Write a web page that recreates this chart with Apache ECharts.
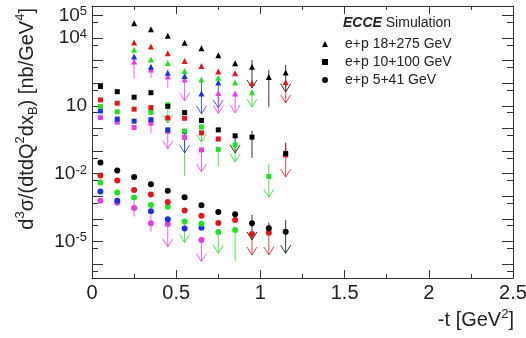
<!DOCTYPE html>
<html>
<head>
<meta charset="utf-8">
<script src="https://cdn.jsdelivr.net/npm/echarts@6/dist/echarts.min.js"></script>
<style>
html, body { margin: 0; padding: 0; background: #fff; }
#main { width: 526px; height: 338px; }
</style>
</head>
<body>
<div id="main"></div>
<script>
// -t bin centres [GeV^2]
var tBins = [0.05, 0.15, 0.25, 0.35, 0.45, 0.55, 0.65, 0.75, 0.85, 0.95, 1.05, 1.15];
// powers of ten that carry a label on the y axis
var yLabelPowers = [-5, -2, 1, 4, 5];
var yMin = 2.4e-7, yMax = 2.6e5;

// e+p 18+275 GeV (triangles)
var triBlack   = [null, null, 4.5e4, 2.45e4, 1.24e4, 6.1e3, 3.5e3, 1.7e3, 770, 530, 190, 300];
var triRed     = [null, null, 6.3e3, 4.2e3, 2.1e3, 970, 580, 330, 277, 103, null, 114];
var triGreen   = [null, null, 3.0e3, 1.13e3, 790, 350, 147, 172, 108, 40, null, null];
var triBlue    = [null, null, 1.5e3, 540, 286, 210, 35, 108, null, null, null, null];
var triMagenta = [null, null, 900, 400, 200, 147, null, 37, 35, null, null, null];

// e+p 10+100 GeV (squares)
var sqBlack   = [71, 42, 24, 38, 9.4, 5.0, 2.26, 0.86, 0.47, 0.41, null, 0.078];
var sqRed     = [18.2, 13.0, 7.1, 8.3, 2.9, 2.8, 0.63, 0.34, null, null, null, 0.067];
var sqGreen   = [9.2, 5.4, null, 5.1, 11, 0.77, 1.16, 0.118, 0.186, null, 0.0075, null];
var sqBlue    = [5.9, 2.58, 2.08, 2.43, 0.86, 0.72, null, null, null, null, null, null];
var sqMagenta = [3.0, 1.9, 1.1, 1.7, 0.74, 0.40, 0.112, null, null, null, null, null];

// e+p 5+41 GeV (circles)
var ciBlack   = [0.0307, 0.0136, 0.0071, 3.4e-3, 1.72e-3, 9.0e-4, 4.0e-4, 2.0e-4, 1.6e-4, 6.4e-5, 3.8e-5, 2.7e-5];
var ciRed     = [0.0083, 0.0049, 1.9e-3, 1.18e-3, 5.6e-4, 2.3e-4, 1.37e-4, 6.5e-5, 8.9e-5, 2.1e-5, 2.4e-5, null];
var ciGreen   = [0.0040, 1.47e-3, 8.7e-4, 4.1e-4, 3.4e-4, 7.5e-5, 6.1e-5, 2.6e-5, 3.2e-5, null, null, null];
var ciBlue    = [1.6e-3, 6.3e-4, null, 2.17e-4, 9.6e-5, 3.7e-5, 4.0e-5, null, null, null, null, null];
var ciMagenta = [6.3e-4, 5.1e-4, 3.0e-4, 6.3e-5, 5.9e-5, null, 1.16e-5, null, null, null, null, null];

// error bars and upper limits: [t, colour (0 black,1 red,2 green,3 blue,4 magenta), low, high, arrow]
var triBars = [
  [0.25, 4, 155, 1700, 0], [0.35, 4, 170, 520, 0], [0.45, 4, 62, 260, 0],
  [0.55, 4, 16.5, 147, 1], [0.65, 3, 4.4, 147, 1], [0.75, 3, 8.1, 108, 1],
  [0.75, 4, 4.6, 37, 1], [0.85, 4, 4.85, 35, 1], [0.95, 0, 62, 1070, 1],
  [0.95, 2, 8.9, 40, 1], [1.05, 0, 8.9, 390, 0], [1.15, 0, 41, 650, 1],
  [1.15, 1, 13.4, 114, 1]
];
var sqBars = [
  [0.35, 4, 0.63, 1.7, 0], [0.45, 2, 1.7, 11, 1], [0.45, 4, 0.124, 0.74, 1],
  [0.55, 2, 0.0079, 0.77, 0], [0.55, 3, 0.082, 0.72, 1], [0.65, 2, 0.25, 1.16, 1],
  [0.65, 4, 0.0119, 0.112, 1], [0.75, 2, 0.021, 0.118, 0], [0.85, 0, 0.082, 0.47, 1],
  [0.85, 2, 0.033, 0.186, 1], [0.95, 0, 0.050, 0.77, 0], [1.05, 2, 8.9e-4, 0.027, 1],
  [1.15, 0, 0.078, 0.23, 0], [1.15, 1, 0.0071, 0.23, 1]
];
var ciBars = [
  [0.25, 4, 1.25e-4, 6.2e-4, 0], [0.35, 4, 2.7e-5, 1.49e-4, 0], [0.45, 4, 5.7e-6, 5.9e-5, 1],
  [0.55, 2, 9.0e-6, 7.5e-5, 1], [0.65, 4, 1.28e-6, 1.16e-5, 1], [0.75, 2, 3.0e-6, 2.6e-5, 1],
  [0.85, 2, 1.37e-6, 3.2e-5, 0], [0.95, 0, 1.16e-5, 1.49e-4, 1], [0.95, 1, 2.5e-6, 2.1e-5, 1],
  [1.05, 0, 3.8e-5, 6.8e-5, 0], [1.05, 1, 2.5e-6, 2.4e-5, 1], [1.15, 0, 3.0e-6, 8.9e-5, 1]
];

var colours = ['#000000', '#e8141c', '#22e022', '#1a30e8', '#e83ce8'];
var FONT = '"Liberation Sans", Arial, Helvetica, sans-serif';
var AXIS_COL = '#333';

var groups = [
  { name: 'e+p 18+275 GeV', symbol: 'triangle', size: 6,
    values: [triBlack, triRed, triGreen, triBlue, triMagenta], bars: triBars },
  { name: 'e+p 10+100 GeV', symbol: 'rect', size: 5,
    values: [sqBlack, sqRed, sqGreen, sqBlue, sqMagenta], bars: sqBars },
  { name: 'e+p 5+41 GeV', symbol: 'circle', size: 6,
    values: [ciBlack, ciRed, ciGreen, ciBlue, ciMagenta], bars: ciBars }
];

// vertical error bar, with an open arrow head for upper limits
function renderBar(params, api) {
  var t = api.value(0);
  var top = api.coord([t, api.value(2)]);
  var bot = api.coord([t, api.value(1)]);
  var col = colours[api.value(4)];
  var kids = [{
    type: 'line',
    shape: { x1: top[0], y1: top[1], x2: bot[0], y2: bot[1] },
    style: { stroke: col, lineWidth: 1, opacity: 0.8 }
  }];
  if (api.value(3)) {
    kids.push({
      type: 'polyline',
      shape: { points: [[bot[0] - 5, bot[1] - 8], [bot[0], bot[1]], [bot[0] + 5, bot[1] - 8]] },
      style: { stroke: col, fill: null, lineWidth: 1, opacity: 0.8 }
    });
  }
  return { type: 'group', children: kids };
}

var series = [];
groups.forEach(function (g, gi) {
  series.push({
    type: 'custom',
    name: 'bars' + gi,
    silent: true,
    z: 1,
    renderItem: renderBar,
    encode: { x: 0, y: [1, 2] },
    data: g.bars.map(function (b) { return [b[0], b[2], b[3], b[4], b[1]]; })
  });
});
groups.forEach(function (g) {
  // magenta first, black last (on top)
  for (var ci = 4; ci >= 0; ci--) {
    var pts = [];
    g.values[ci].forEach(function (v, i) {
      if (v != null) pts.push([tBins[i], v]);
    });
    series.push({
      type: 'scatter',
      name: ci === 0 ? g.name : g.name + ' #' + ci,
      symbol: g.symbol,
      symbolSize: g.size,
      z: 2,
      itemStyle: { color: colours[ci], opacity: 1 },
      data: pts
    });
  }
});

var majorTicks = [], minorTicks = [];
for (var p = -7; p <= 5; p++) {
  majorTicks.push(Math.pow(10, p));
  minorTicks.push(5 * Math.pow(10, p));
}
var labelTicks = yLabelPowers.map(function (p) { return Math.pow(10, p); });

function yAxisCfg(pos, ticks, len, withLine, withLabels) {
  return {
    type: 'log', logBase: 10, min: yMin, max: yMax, position: pos,
    axisLine: { show: withLine, lineStyle: { color: AXIS_COL, width: 1 } },
    axisTick: { show: true, inside: true, length: len, customValues: ticks,
      lineStyle: { color: AXIS_COL, width: 1 } },
    splitLine: { show: false },
    axisLabel: withLabels ? {
      show: true, customValues: labelTicks, margin: 5,
      formatter: function (v) {
        var e = Math.round(Math.log(v) / Math.LN10);
        return e === 1 ? '{b|10}' : '{b|10}{s|' + e + '}';
      },
      rich: {
        b: { fontSize: 19, fontFamily: FONT, color: '#222', lineHeight: 20 },
        s: { fontSize: 13, fontFamily: FONT, color: '#222', lineHeight: 13, verticalAlign: 'top' }
      }
    } : { show: false }
  };
}

function xAxisCfg(pos, withLabels) {
  return {
    type: 'value', min: 0, max: 2.5, interval: 0.5, position: pos,
    axisLine: { show: true, lineStyle: { color: AXIS_COL, width: 1 } },
    axisTick: { show: true, inside: true, length: 8, lineStyle: { color: AXIS_COL } },
    minorTick: { show: true, splitNumber: 2, length: 4, lineStyle: { color: AXIS_COL } },
    splitLine: { show: false },
    minorSplitLine: { show: false },
    axisLabel: withLabels ? {
      show: true, fontSize: 20, fontFamily: FONT, color: '#222', margin: 5,
      formatter: function (v) { return String(v); }
    } : { show: false }
  };
}

var chart = echarts.init(document.getElementById('main'), null, { renderer: 'canvas' });
chart.setOption({
  animation: false,
  backgroundColor: '#fff',
  grid: { left: 92, right: 13, top: 6, bottom: 60, outerBoundsMode: 'none' },
  xAxis: [xAxisCfg('bottom', true), xAxisCfg('top', false)],
  yAxis: [
    yAxisCfg('left', majorTicks, 11, true, true),
    yAxisCfg('left', minorTicks, 6, false, false),
    yAxisCfg('right', majorTicks, 11, true, false),
    yAxisCfg('right', minorTicks, 6, false, false)
  ],
  legend: {
    data: groups.map(function (g) { return g.name; }),
    orient: 'vertical', left: 317, top: 32,
    itemWidth: 6, itemHeight: 6, itemGap: 4,
    selectedMode: false,
    textStyle: { fontSize: 14, fontFamily: FONT, color: '#222', padding: [0, 0, 0, 12] }
  },
  graphic: [
    {
      type: 'text', x: 343, y: 23,
      style: {
        text: '{e|ECCE}{n| Simulation}', verticalAlign: 'middle',
        rich: {
          e: { fontSize: 14, fontFamily: FONT, fontWeight: 'bold', fontStyle: 'italic', fill: '#222' },
          n: { fontSize: 14, fontFamily: FONT, fill: '#222' }
        }
      }
    },
    {
      type: 'text', x: 514, y: 320,
      style: {
        text: '{n|-t [GeV}{s|2}{n|]}', align: 'right', verticalAlign: 'middle',
        rich: {
          n: { fontSize: 20, fontFamily: FONT, fill: '#222', lineHeight: 24 },
          s: { fontSize: 13, fontFamily: FONT, fill: '#222', lineHeight: 13, verticalAlign: 'top' }
        }
      }
    },
    {
      type: 'text', x: 27, y: 8, rotation: Math.PI / 2,
      style: {
        text: '{n|d}{s|3}{n|σ/(dtdQ}{s|2}{n|dx}{b|B}{n|) [nb/GeV}{s|4}{n|]}',
        align: 'right', verticalAlign: 'middle',
        rich: {
          n: { fontSize: 20, fontFamily: FONT, fill: '#222', lineHeight: 26 },
          s: { fontSize: 13, fontFamily: FONT, fill: '#222', lineHeight: 13, verticalAlign: 'top' },
          b: { fontSize: 13, fontFamily: FONT, fill: '#222', lineHeight: 13, verticalAlign: 'bottom' }
        }
      }
    }
  ],
  series: series
});
</script>
</body>
</html>
